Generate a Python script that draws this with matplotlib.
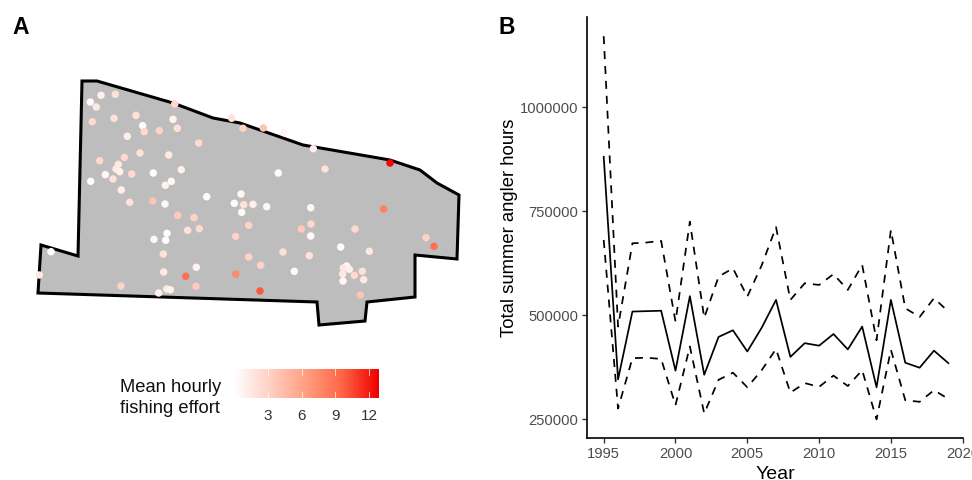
import numpy as np
import matplotlib
matplotlib.use("Agg")
import matplotlib.pyplot as plt
from matplotlib.colors import LinearSegmentedColormap, Normalize
from matplotlib.patches import Polygon

plt.rcParams['font.family'] = ['Liberation Sans', 'DejaVu Sans']

# Panel A: lake outline and sites (map units)
outline_x = [82, 97, 173, 213, 240, 303, 390, 420, 437, 459, 457, 415, 415, 367, 365, 319, 317, 38, 41, 78]
outline_y = [81, 81, 103, 118, 123, 145, 160, 170, 183, 195, 259, 255, 297, 302, 321, 325, 302, 293, 245, 256]

site_x = [90.3, 101, 115.3, 96.3, 92.3, 114, 136, 142.7, 144.3, 127.3, 159.3, 173, 177.3, 174.7, 198.7, 231.7, 243,
          140, 124.3, 99.7, 168.7, 118.3, 116, 119.7, 105.3, 131.7, 113, 153.3, 181.3, 90.7, 171.3, 165.3, 121.3,
          129.7, 152.7, 165, 206.7, 241, 234.3, 243.7, 241.7, 177.7, 194, 187.7, 199.3, 248.7, 235.7, 167, 154,
          165.7, 163.3, 248.7, 51, 39.3, 163.7, 196.3, 185.7, 235.7, 196, 121, 166.7, 170.3, 158.7,
          263.3, 284, 313.3, 278.3, 325, 390, 383.7, 253, 266.7, 310.7, 311, 301.3, 310.7, 355, 426, 434, 340.7,
          369.3, 283, 309.3, 260.7, 294.3, 346.7, 343.3, 349.3, 342.7, 354.3, 362.3, 363.7, 343, 360.3, 260]
site_y = [102, 95.3, 94.3, 107, 121.7, 118.3, 115.3, 125.7, 131.7, 136.3, 130.7, 119.3, 128.3, 104, 143, 118.3, 128.3,
          153, 157.3, 160.7, 155, 164.3, 169, 171.7, 174.7, 174, 179, 173, 169.7, 181.3, 181.3, 185.3, 190,
          202.3, 201, 204, 196.7, 194, 203.3, 204.7, 212.3, 215.3, 217.7, 230.3, 228.7, 225.3, 236.3, 233.3, 239.3,
          240.3, 254, 257, 251.7, 275, 272, 267.3, 276.3, 274, 286.3, 286, 289, 289.7, 293,
          128, 132.7, 148.7, 173, 169, 163, 209, 204.3, 206.7, 207.7, 224, 229, 236, 229, 237.7, 246.3, 247,
          251.3, 252, 255.7, 265.3, 271.3, 266, 268, 269.3, 274, 275.3, 271.3, 279.7, 281, 295, 291]
site_effort = [0.3, 1, 2, 1.5, 2.5, 2, 2, 0.1, 2.5, 1.2, 3, 0.8, 2, 2.5, 2.5, 2, 3,
               2, 2.5, 2.5, 1.5, 1.5, 1.3, 1, 0.5, 2.5, 2, 0.3, 1, 0.1, 0.3, 0.8, 1,
               2, 4, 0.5, 0.3, 0.6, 0.3, 2, 0.3, 3.5, 3, 2, 2.5, 3, 3, 0.2, 0.5,
               0.1, 2, 3, 0.1, 1.5, 1.5, 0.8, 9, 7.5, 3.5, 3, 1.5, 1, 1,
               4, 0.8, 1, 0.2, 2, 12.5, 8, 1, 0.5, 0.6, 2.5, 3.5, 0.4, 2.5, 3, 9, 0.3,
               1.5, 2, 2, 3, 0.3, 0.5, 1.5, 1, 1.5, 2.5, 2, 1.5, 0.5, 4, 10]

effort_ticks = [3, 6, 9, 12]
effort_range = [0.05, 12.8]

# Panel B: angler hours
years = list(range(1995, 2020))
mean_hours = [881000, 346000, 509000, 510000, 511000, 367000, 546000, 357000, 448000, 464000, 413000, 470000, 537000,
              400000, 433000, 427000, 455000, 418000, 473000, 327000, 537000, 386000, 374000, 415000, 385000]
upper_hours = [1171000, 473000, 673000, 675000, 679000, 485000, 725000, 494000, 593000, 613000, 545000, 620000, 712000,
               537000, 577000, 573000, 599000, 561000, 621000, 440000, 705000, 517000, 496000, 541000, 509000]
lower_hours = [681000, 276000, 397000, 398000, 395000, 284000, 425000, 264000, 345000, 362000, 327000, 368000, 419000,
               314000, 337000, 328000, 355000, 330000, 368000, 250000, 417000, 296000, 292000, 320000, 299000]
year_ticks = [1995, 2000, 2005, 2010, 2015, 2020]
hour_ticks = [250000, 500000, 750000, 1000000]

W, H = 972, 480
fig = plt.figure(figsize=(W / 100, H / 100), dpi=100)
cmap = LinearSegmentedColormap.from_list("wr", ["#FFFFFF", "#FFCFC1", "#FF9E81", "#FF6545", "#F00000"])
norm = Normalize(0, 12.8)

# ---- Panel A map ----
ax = fig.add_axes([0, 0, 1, 1])
ax.set_xlim(0, W)
ax.set_ylim(H, 0)
ax.axis("off")
ax.add_patch(Polygon(np.column_stack([outline_x, outline_y]), closed=True, fc="#BDBDBD", ec="black",
                     lw=2.2, joinstyle="miter", zorder=1))
ax.scatter(site_x, site_y, c=site_effort, cmap=cmap, norm=norm, s=29, linewidths=0, zorder=2)

fig.text(12 / W, 1 - 34 / H, "A", fontsize=16.5, fontweight="bold", color="black")
fig.text(498 / W, 1 - 34 / H, "B", fontsize=16.5, fontweight="bold", color="black")

# legend colourbar
cax = fig.add_axes([235 / W, 1 - 398 / H, 143 / W, 29 / H])
grad = np.linspace(effort_range[0], effort_range[1], 256).reshape(1, -1)
cax.imshow(grad, aspect="auto", cmap=cmap, norm=norm, extent=[effort_range[0], effort_range[1], 0, 1])
cax.set_xlim(effort_range)
cax.set_ylim(0, 1)
cax.set_yticks([])
cax.set_xticks(effort_ticks)
cax.tick_params(axis="x", length=0, labelsize=11, labelcolor="#333333", pad=8)
for s in cax.spines.values():
    s.set_visible(False)
for t in effort_ticks:
    cax.plot([t, t], [0, 0.2], color="white", lw=0.6, alpha=0.8)
    cax.plot([t, t], [0.8, 1], color="white", lw=0.6, alpha=0.8)
fig.text(120 / W, 1 - 392 / H, "Mean hourly", fontsize=13.2, color="#111111")
fig.text(120 / W, 1 - 413 / H, "fishing effort", fontsize=13.2, color="#111111")

# ---- Panel B ----
left, right, top, bottom = 586.7, 963.5, 17, 437.7
bx = fig.add_axes([left / W, 1 - bottom / H, (right - left) / W, (bottom - top) / H])
px_year = (962.7 - 603.7) / 25
px_hour = 250000 / 104
bx.set_xlim(1995 - (603.7 - left) / px_year, 1995 + (right - 603.7) / px_year)
bx.set_ylim(250000 - (bottom - 419.3) * px_hour, 1000000 + (107.3 - top) * px_hour)
dash = (0, (4.6, 4.0))
bx.plot(years, upper_hours, color="black", lw=1.25, ls=dash)
bx.plot(years, lower_hours, color="black", lw=1.25, ls=dash)
bx.plot(years, mean_hours, color="black", lw=1.25)
bx.set_xticks(year_ticks)
bx.set_yticks(hour_ticks)
bx.set_yticklabels([str(v) for v in hour_ticks])
bx.tick_params(labelsize=10.6, labelcolor="#4D4D4D", color="#333333", width=1, length=3.5, pad=2.5)
bx.tick_params(axis="x", pad=3.5)
bx.spines["top"].set_visible(False)
bx.spines["right"].set_visible(False)
bx.spines["left"].set_linewidth(1.2)
bx.spines["bottom"].set_linewidth(1.2)
bx.set_xlabel("Year", fontsize=14, labelpad=3.5)
bx.set_ylabel("Total summer angler hours", fontsize=13.3, labelpad=1.5)

fig.savefig("out.png", dpi=100)
